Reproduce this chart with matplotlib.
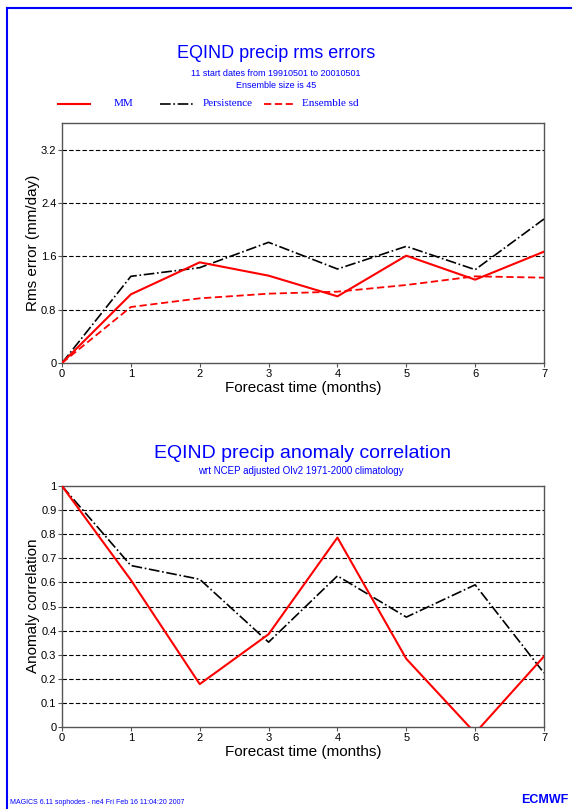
import numpy as np
import matplotlib
matplotlib.use('Agg')
import matplotlib.pyplot as plt
from matplotlib.lines import Line2D

months = [0, 1, 2, 3, 4, 5, 6, 7]

# rms errors (mm/day)
rms_mm = [0.0, 1.03, 1.51, 1.31, 1.00, 1.61, 1.25, 1.67]
rms_persist = [0.0, 1.30, 1.43, 1.81, 1.41, 1.75, 1.40, 2.16]
rms_ens_sd = [0.0, 0.84, 0.97, 1.04, 1.07, 1.17, 1.30, 1.28]

# anomaly correlation
acc_mm = [1.0, 0.61, 0.178, 0.385, 0.786, 0.283, -0.025, 0.293]
acc_persist = [1.0, 0.67, 0.613, 0.352, 0.627, 0.456, 0.59, 0.224]

rms_ticks = [0, 0.8, 1.6, 2.4, 3.2]
rms_ticklabels = ['0', '0.8', '1.6', '2.4', '3.2']
acc_ticks = [0, 0.1, 0.2, 0.3, 0.4, 0.5, 0.6, 0.7, 0.8, 0.9, 1]
acc_ticklabels = ['0', '0.1', '0.2', '0.3', '0.4', '0.5', '0.6', '0.7', '0.8', '0.9', '1']

BLUE = '#0000ff'
plt.rcParams['font.family'] = 'Liberation Sans'

fig = plt.figure(figsize=(5.72, 8.09), dpi=100)
W, H = 572.0, 809.0


def fx(x):
    return x / W


def fy(y):
    return 1 - y / H


def style_axes(ax, ticks, labels, ylim):
    ax.set_xlim(0, 7)
    ax.set_ylim(*ylim)
    ax.set_xticks(months)
    ax.set_xticklabels([str(m) for m in months], fontsize=8)
    ax.set_yticks(ticks)
    ax.set_yticklabels(labels, fontsize=8)
    ax.tick_params(direction='out', length=3, width=0.8, color='#555555', pad=1)
    for s in ax.spines.values():
        s.set_color('#555555')
        s.set_linewidth(1.0)
    for t in ticks:
        if t > 0 and t < ylim[1] - 1e-6:
            ax.axhline(t, color='black', lw=0.8, ls=(0, (4, 2)), zorder=1)


# blue frame
fig.add_artist(Line2D([fx(6.5), fx(6.5)], [0, fy(8)], color=BLUE, lw=1.5))
fig.add_artist(Line2D([fx(6.5), 1], [fy(8), fy(8)], color=BLUE, lw=1.5))

# ---- top panel: rms errors
ax1 = fig.add_axes([fx(62), fy(363), fx(544) - fx(62), (363 - 123) / H])
ax1.plot(months, rms_persist, color='black', lw=1.2, ls='-.', zorder=3)
ax1.plot(months, rms_ens_sd, color='red', lw=1.3, ls=(0, (4, 2)), zorder=3)
ax1.plot(months, rms_mm, color='red', lw=1.5, zorder=4)
style_axes(ax1, rms_ticks, rms_ticklabels, (0, 3.6))

fig.text(fx(276), fy(54), 'EQIND precip rms errors', color=BLUE, fontsize=13,
         ha='center', va='center')
fig.text(fx(276), fy(73), '11 start dates from 19910501 to 20010501', color=BLUE,
         fontsize=6.5, ha='center', va='center')
fig.text(fx(276), fy(85), 'Ensemble size is 45', color=BLUE,
         fontsize=6.5, ha='center', va='center')

# legend drawn by hand, as in the original layout
leg_y = fy(104)
fig.add_artist(Line2D([fx(58), fx(90)], [leg_y, leg_y], color='red', lw=1.5))
fig.text(fx(114), leg_y, 'MM', color=BLUE, fontsize=8, family='Liberation Serif',
         va='center')
fig.add_artist(Line2D([fx(160), fx(194)], [leg_y, leg_y], color='black', lw=1.2, ls='-.'))
fig.text(fx(203), leg_y, 'Persistence', color=BLUE, fontsize=8,
         family='Liberation Serif', va='center')
fig.add_artist(Line2D([fx(264), fx(296)], [leg_y, leg_y], color='red', lw=1.3,
                      ls=(0, (4, 2))))
fig.text(fx(302), leg_y, 'Ensemble sd', color=BLUE, fontsize=8,
         family='Liberation Serif', va='center')

fig.text(fx(303), fy(388), 'Forecast time (months)', fontsize=11,
         ha='center', va='center')
fig.text(fx(33), fy(243), 'Rms error (mm/day)', fontsize=11, rotation=90,
         ha='center', va='center')

# ---- bottom panel: anomaly correlation
ax2 = fig.add_axes([fx(62), fy(727), fx(544) - fx(62), (727 - 486) / H])
ax2.plot(months, acc_persist, color='black', lw=1.2, ls='-.', zorder=3)
ax2.plot(months, acc_mm, color='red', lw=1.5, zorder=4)
style_axes(ax2, acc_ticks, acc_ticklabels, (0, 1))

fig.text(fx(302), fy(453), 'EQIND precip anomaly correlation', color=BLUE,
         fontsize=14, ha='center', va='center')
fig.text(fx(301), fy(471), 'wrt NCEP adjusted OIv2 1971-2000 climatology', color=BLUE,
         fontsize=7, ha='center', va='center')

fig.text(fx(303), fy(752), 'Forecast time (months)', fontsize=11,
         ha='center', va='center')
fig.text(fx(33), fy(606), 'Anomaly correlation', fontsize=11, rotation=90,
         ha='center', va='center')

# footer
fig.text(fx(10), fy(802), 'MAGICS 6.11 sophodes - ne4 Fri Feb 16 11:04:20 2007',
         color=BLUE, fontsize=5, va='center')
fig.text(fx(568), fy(800), 'ECMWF', color=BLUE, fontsize=9, weight='bold',
         ha='right', va='center')

plt.savefig('out.png', dpi=100)
